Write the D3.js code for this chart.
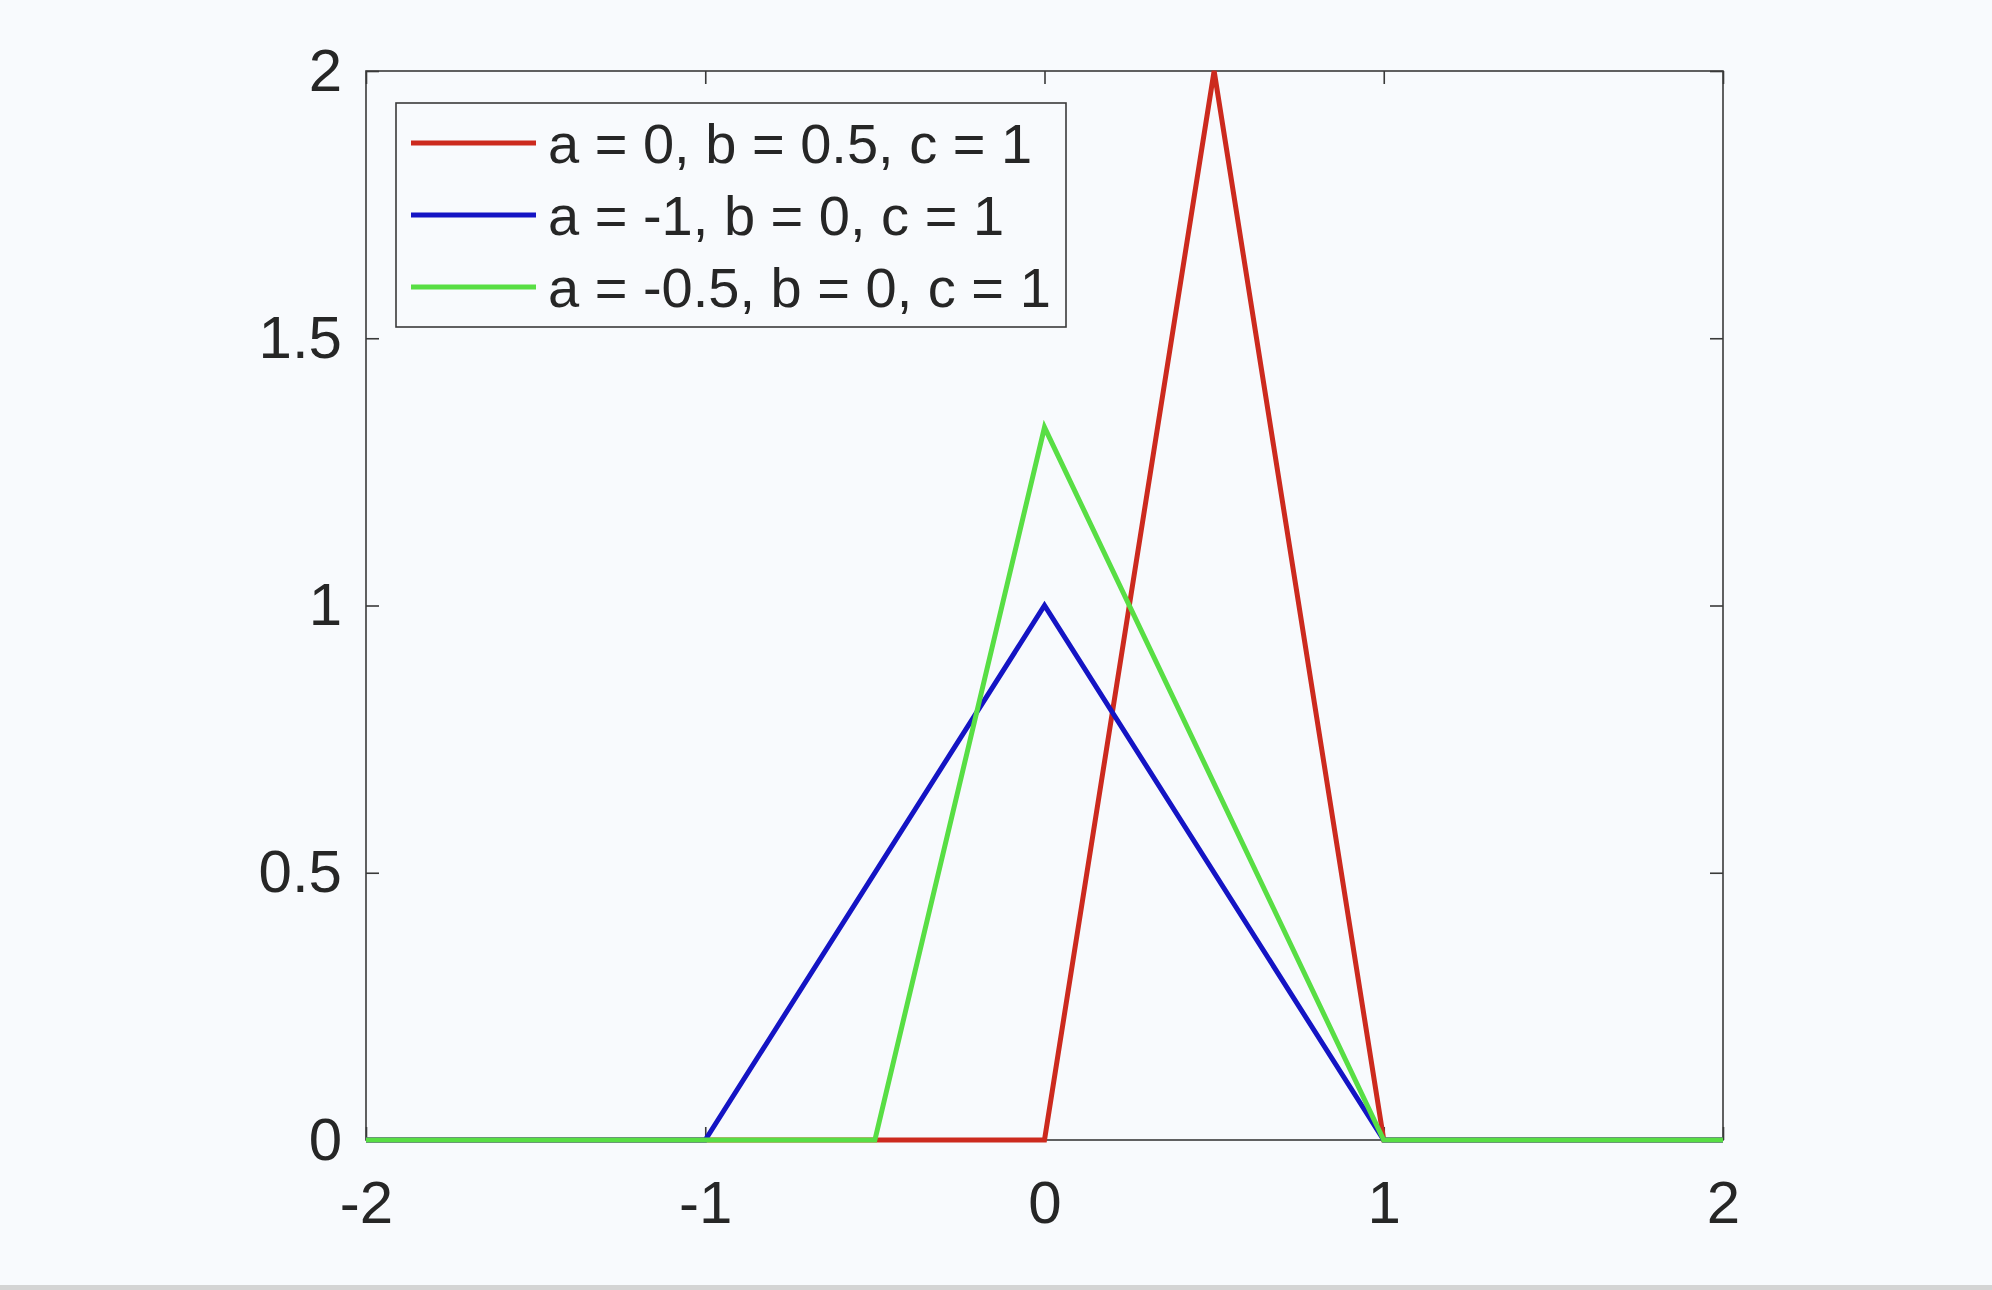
<!DOCTYPE html>
<html>
<head>
<meta charset="utf-8">
<script src="https://cdn.jsdelivr.net/npm/d3@7"></script>
<style>
  html, body { margin: 0; padding: 0; background: #f8fafd; }
  svg { display: block; }
  .tick text { font-family: "Liberation Sans", Arial, Helvetica, sans-serif; fill: #262626; }
</style>
</head>
<body>
<div id="chart"></div>
<script>
// triangular pdf parameters and their break points
var xTicks = [-2, -1, 0, 1, 2];
var yTicks = [0, 0.5, 1, 1.5, 2];
var seriesNames = ["a = 0, b = 0.5, c = 1", "a = -1, b = 0, c = 1", "a = -0.5, b = 0, c = 1"];
var seriesColors = ["#cc2a1e", "#1414c4", "#58de44"];
var redX = [-2, 0, 0.5, 1, 2];
var redY = [0, 0, 2, 0, 0];
var blueX = [-2, -1, 0, 1, 2];
var blueY = [0, 0, 1, 0, 0];
var greenX = [-2, -0.5, 0, 1, 2];
var greenY = [0, 0, 1.3333, 0, 0];

var W = 1992, H = 1290;
var margin = { top: 71, right: 269, bottom: 150, left: 366 },
    width = W - margin.left - margin.right,
    height = H - margin.top - margin.bottom;

var svg = d3.select("#chart")
    .append("svg")
        .attr("width", W)
        .attr("height", H)
        .style("background-color", "#f8fafd");

// grey strip at the very bottom of the screenshot
svg.append("rect")
    .attr("x", 0).attr("y", H - 5)
    .attr("width", W).attr("height", 5)
    .attr("fill", "#d4d4d4");

var g = svg.append("g")
    .attr("transform", "translate(" + margin.left + "," + margin.top + ")");

var x = d3.scaleLinear().domain([-2, 2]).range([0, width]);
var y = d3.scaleLinear().domain([0, 2]).range([height, 0]);

var tickLen = 13;
var axisColor = "#3a3a3a";
var plain = function (d) { return String(d); }; // keep the short hyphen minus

// bottom axis (labels)
g.append("g")
    .attr("transform", "translate(0," + height + ")")
    .call(d3.axisBottom(x).tickValues(xTicks).tickFormat(plain)
        .tickSizeInner(-tickLen).tickSizeOuter(0).tickPadding(40))
    .call(function (a) {
        a.select(".domain").remove();
        a.selectAll("line").attr("stroke", axisColor).attr("stroke-width", 1.6);
        a.selectAll("text").style("font-size", "60px");
    });

// left axis (labels)
g.append("g")
    .call(d3.axisLeft(y).tickValues(yTicks).tickFormat(plain)
        .tickSizeInner(-tickLen).tickSizeOuter(0).tickPadding(24))
    .call(function (a) {
        a.select(".domain").remove();
        a.selectAll("line").attr("stroke", axisColor).attr("stroke-width", 1.6);
        a.selectAll("text").style("font-size", "60px");
    });

// top and right axes: ticks only
g.append("g")
    .call(d3.axisTop(x).tickValues(xTicks).tickFormat("")
        .tickSizeInner(-tickLen).tickSizeOuter(0))
    .call(function (a) {
        a.select(".domain").remove();
        a.selectAll("line").attr("stroke", axisColor).attr("stroke-width", 1.6);
    });
g.append("g")
    .attr("transform", "translate(" + width + ",0)")
    .call(d3.axisRight(y).tickValues(yTicks).tickFormat("")
        .tickSizeInner(-tickLen).tickSizeOuter(0))
    .call(function (a) {
        a.select(".domain").remove();
        a.selectAll("line").attr("stroke", axisColor).attr("stroke-width", 1.6);
    });

// box
g.append("rect")
    .attr("x", 0).attr("y", 0)
    .attr("width", width).attr("height", height)
    .attr("fill", "none")
    .attr("stroke", axisColor)
    .attr("stroke-width", 1.6);

// lines
var line = d3.line()
    .x(function (d) { return x(d[0]); })
    .y(function (d) { return y(d[1]); });

var series = [
    { name: seriesNames[0], color: seriesColors[0], pts: d3.zip(redX, redY) },
    { name: seriesNames[1], color: seriesColors[1], pts: d3.zip(blueX, blueY) },
    { name: seriesNames[2], color: seriesColors[2], pts: d3.zip(greenX, greenY) }
];

g.selectAll(".series")
    .data(series)
    .enter().append("path")
        .attr("class", "series")
        .attr("d", function (d) { return line(d.pts); })
        .attr("fill", "none")
        .attr("stroke", function (d) { return d.color; })
        .attr("stroke-width", 5)
        .attr("stroke-linejoin", "miter");

// legend
var lg = g.append("g").attr("transform", "translate(30,32)");
lg.append("rect")
    .attr("x", 0).attr("y", 0)
    .attr("width", 670).attr("height", 224)
    .attr("fill", "#f8fafd")
    .attr("stroke", axisColor)
    .attr("stroke-width", 1.6);

var item = lg.selectAll(".item")
    .data(series)
    .enter().append("g")
        .attr("class", "item")
        .attr("transform", function (d, i) { return "translate(0," + (40 + i * 72) + ")"; });

item.append("line")
    .attr("x1", 15).attr("x2", 140)
    .attr("y1", 0).attr("y2", 0)
    .attr("stroke", function (d) { return d.color; })
    .attr("stroke-width", 5);

item.append("text")
    .attr("x", 152)
    .attr("y", 0)
    .attr("dy", "0.36em")
    .attr("font-family", "'Liberation Sans', Arial, Helvetica, sans-serif")
    .attr("font-size", "56px")
    .attr("fill", "#262626")
    .text(function (d) { return d.name; });
</script>
</body>
</html>
